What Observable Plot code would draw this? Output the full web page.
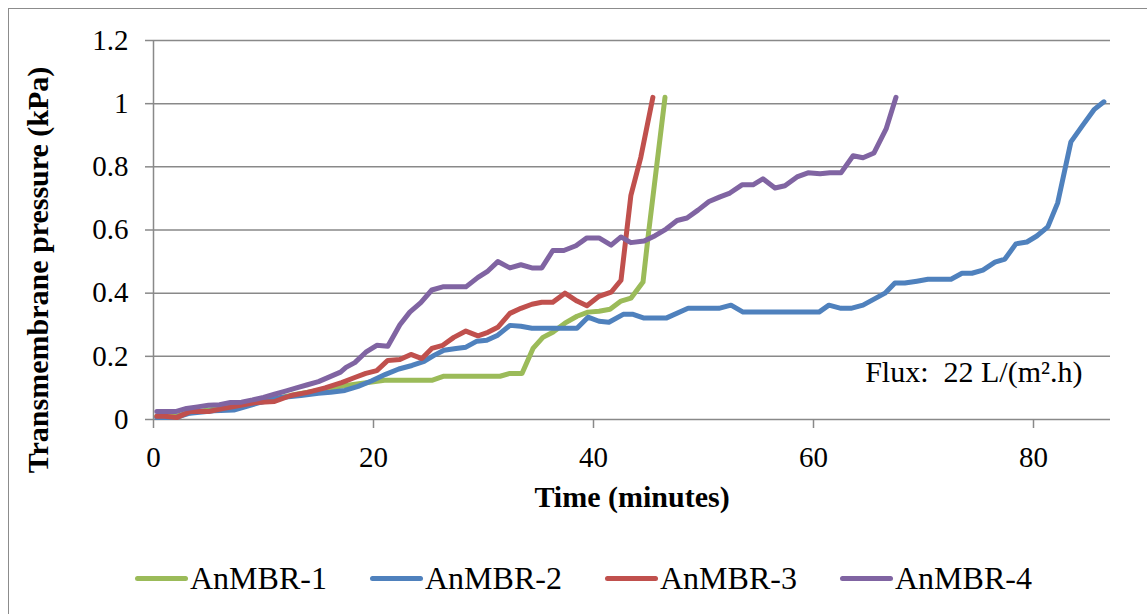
<!DOCTYPE html>
<html>
<head>
<meta charset="utf-8">
<script src="https://cdn.jsdelivr.net/npm/d3@7"></script>
<script src="https://cdn.jsdelivr.net/npm/@observablehq/plot@0.6"></script>
<style>
  html, body { margin: 0; padding: 0; background: #fff; }
  body { width: 1147px; height: 614px; overflow: hidden; position: relative;
         font-family: "Liberation Serif", "Times New Roman", serif; }
  #frame { position: absolute; left: 8px; top: 8px; width: 1200px; height: 700px;
           border: 1.5px solid #8c8c8c; box-sizing: border-box; }
  #chart { position: absolute; left: 0; top: 0; }
  .legend-item { position: absolute; top: 560px; height: 36px; display: flex; align-items: center;
                 font-size: 32px; color: #000; white-space: nowrap; }
  .legend-item .swatch { width: 53px; height: 5px; border-radius: 3px; margin-right: 2px; }
</style>
</head>
<body>
<div id="frame"></div>
<div id="chart"></div>
<div id="legend"></div>
<script>
// Time (minutes) and transmembrane pressure (kPa) for each reactor
const seriesNames = ["AnMBR-1", "AnMBR-2", "AnMBR-3", "AnMBR-4"];
const seriesColors = ["#9BBB59", "#4F81BD", "#C0504D", "#8064A2"];

const time1 = [0.3, 2, 3, 5, 7, 9, 11, 13, 15, 17, 19, 21, 25.3, 26.4, 31.5, 32.4, 33.5, 34.5, 35.4, 36.3, 37.4, 38.5, 39.5, 40.5, 41.5, 42.5, 43.4, 44.5, 45.0, 46.5];
const tmp1  = [0.01, 0.01, 0.02, 0.03, 0.04, 0.052, 0.065, 0.08, 0.092, 0.105, 0.115, 0.124, 0.124, 0.137, 0.137, 0.146, 0.146, 0.225, 0.26, 0.276, 0.305, 0.327, 0.34, 0.343, 0.349, 0.375, 0.384, 0.435, 0.59, 1.02];

const time2 = [0.3, 2, 3.3, 5.5, 7.3, 9.7, 11.6, 13.4, 15, 16.1, 17.4, 18.6, 19.8, 21.1, 22.3, 23.5, 24.6, 25.5, 26.4, 27.5, 28.4, 29.4, 30.3, 31.3, 32.4, 33.4, 34.4, 38.5, 39.5, 40.5, 41.4, 42.7, 43.6, 44.6, 46.6, 48.6, 51.4, 52.5, 53.6, 60.5, 61.4, 62.5, 63.4, 64.5, 65.5, 66.5, 67.4, 68.3, 69.4, 70.4, 72.5, 73.5, 74.4, 75.4, 76.5, 77.4, 78.4, 79.4, 80.3, 81.3, 82.2, 83.4, 84.5, 85.5, 86.4];
const tmp2  = [0.006, 0.006, 0.02, 0.028, 0.03, 0.054, 0.07, 0.076, 0.083, 0.086, 0.092, 0.105, 0.122, 0.143, 0.16, 0.171, 0.184, 0.203, 0.219, 0.225, 0.229, 0.248, 0.251, 0.267, 0.298, 0.295, 0.289, 0.289, 0.324, 0.311, 0.308, 0.333, 0.333, 0.321, 0.321, 0.352, 0.352, 0.362, 0.34, 0.34, 0.362, 0.352, 0.352, 0.362, 0.381, 0.4, 0.432, 0.432, 0.438, 0.444, 0.444, 0.463, 0.463, 0.473, 0.498, 0.508, 0.556, 0.562, 0.581, 0.61, 0.686, 0.879, 0.933, 0.981, 1.006];

const time3 = [0.3, 1, 2.1, 3.3, 5, 6.3, 7.8, 9.3, 11, 12.5, 14, 15.6, 17.1, 18.3, 19.3, 20.3, 21.3, 22.4, 23.4, 24.4, 25.3, 26.3, 27.3, 28.4, 29.5, 30.4, 31.3, 32.4, 33.4, 34.4, 35.3, 36.3, 37.4, 38.5, 39.4, 40.5, 41.6, 42.5, 43.0, 43.4, 44.3, 45.4];
const tmp3  = [0.01, 0.01, 0.006, 0.025, 0.025, 0.035, 0.044, 0.054, 0.057, 0.076, 0.086, 0.1, 0.117, 0.133, 0.146, 0.155, 0.187, 0.19, 0.206, 0.193, 0.225, 0.235, 0.26, 0.28, 0.265, 0.276, 0.292, 0.336, 0.352, 0.365, 0.371, 0.371, 0.4, 0.375, 0.36, 0.39, 0.403, 0.441, 0.59, 0.71, 0.83, 1.02];

const time4 = [0.3, 1, 2, 3, 4, 5, 6, 7, 8, 9, 10, 11, 12, 13, 14, 15, 16, 17, 17.5, 18.3, 19.3, 20.3, 21.3, 22.4, 23.3, 24.3, 25.3, 26.3, 27.3, 28.4, 29.5, 30.4, 31.3, 32.4, 33.4, 34.4, 35.3, 36.3, 37.3, 38.4, 39.4, 40.5, 41.6, 42.5, 43.4, 44.6, 45.6, 46.6, 47.6, 48.5, 49.5, 50.5, 51.5, 52.4, 53.5, 54.5, 55.4, 56.5, 57.4, 58.5, 59.5, 60.6, 61.5, 62.5, 63.6, 64.5, 65.5, 66.6, 67.5];
const tmp4  = [0.025, 0.025, 0.025, 0.035, 0.04, 0.045, 0.047, 0.054, 0.055, 0.062, 0.07, 0.08, 0.09, 0.1, 0.11, 0.12, 0.135, 0.15, 0.165, 0.18, 0.213, 0.235, 0.232, 0.3, 0.34, 0.37, 0.41, 0.42, 0.42, 0.42, 0.45, 0.47, 0.5, 0.48, 0.49, 0.48, 0.48, 0.535, 0.535, 0.55, 0.575, 0.575, 0.552, 0.578, 0.56, 0.565, 0.582, 0.603, 0.63, 0.638, 0.663, 0.69, 0.705, 0.717, 0.743, 0.743, 0.762, 0.733, 0.74, 0.768, 0.781, 0.778, 0.781, 0.781, 0.835, 0.829, 0.844, 0.92, 1.02];

const yTicks = [0, 0.2, 0.4, 0.6, 0.8, 1, 1.2];
const xTicks = [0, 20, 40, 60, 80];

const allTimes = [time1, time2, time3, time4];
const allTmp = [tmp1, tmp2, tmp3, tmp4];
const rows = seriesNames.flatMap((name, i) =>
  allTimes[i].map((t, j) => ({series: name, t, p: allTmp[i][j]})));

const grey = "#898989";
const font = '"Liberation Serif", "Times New Roman", serif';

const chart = Plot.plot({
  width: 1147,
  height: 520,
  marginLeft: 153,
  marginRight: 37,
  marginTop: 40,
  marginBottom: 101,
  style: {fontFamily: font, fontSize: "29px", background: "transparent", color: "#000"},
  x: {domain: [0, 87]},
  y: {domain: [0, 1.2]},
  color: {domain: seriesNames, range: seriesColors},
  marks: [
    Plot.gridY(yTicks, {stroke: grey, strokeOpacity: 1, strokeWidth: 1.5}),
    Plot.axisY(yTicks, {tickSize: 8, tickPadding: 17, stroke: grey, strokeWidth: 1.5,
      tickFormat: d => String(+d.toFixed(1)), label: null, fontSize: 29}),
    Plot.ruleX([0], {stroke: grey, strokeWidth: 1.5}),
    Plot.axisX(xTicks, {tickSize: 9, tickPadding: 18, stroke: grey, strokeWidth: 1.5,
      tickFormat: d => String(d), label: null, fontSize: 29}),
    Plot.line(rows, {x: "t", y: "p", z: "series", stroke: "series", strokeWidth: 5,
      strokeLinejoin: "round", strokeLinecap: "round"}),
    Plot.text(["Transmembrane pressure (kPa)"], {frameAnchor: "left", dx: -115, dy: 40,
      rotate: -90, textAnchor: "middle", fontWeight: "bold", fontSize: 30, fill: "#000"}),
    Plot.text(["Time (minutes)"], {frameAnchor: "bottom", dy: 87,
      fontWeight: "bold", fontSize: 30, fill: "#000"}),
    Plot.text(["Flux:  22 L/(m\u00B2.h)"], {frameAnchor: "bottom-right", dx: -28, dy: -38,
      textAnchor: "end", fontSize: 30, fill: "#000"})
  ]
});
document.getElementById("chart").appendChild(chart);

// legend row beneath the plot
const legend = document.getElementById("legend");
const legendLeft = [135, 370, 605, 840];
seriesNames.forEach((name, i) => {
  const item = document.createElement("div");
  item.className = "legend-item";
  item.style.left = legendLeft[i] + "px";
  const sw = document.createElement("span");
  sw.className = "swatch";
  sw.style.background = seriesColors[i];
  const label = document.createElement("span");
  label.textContent = name;
  item.appendChild(sw);
  item.appendChild(label);
  legend.appendChild(item);
});
</script>
</body>
</html>
